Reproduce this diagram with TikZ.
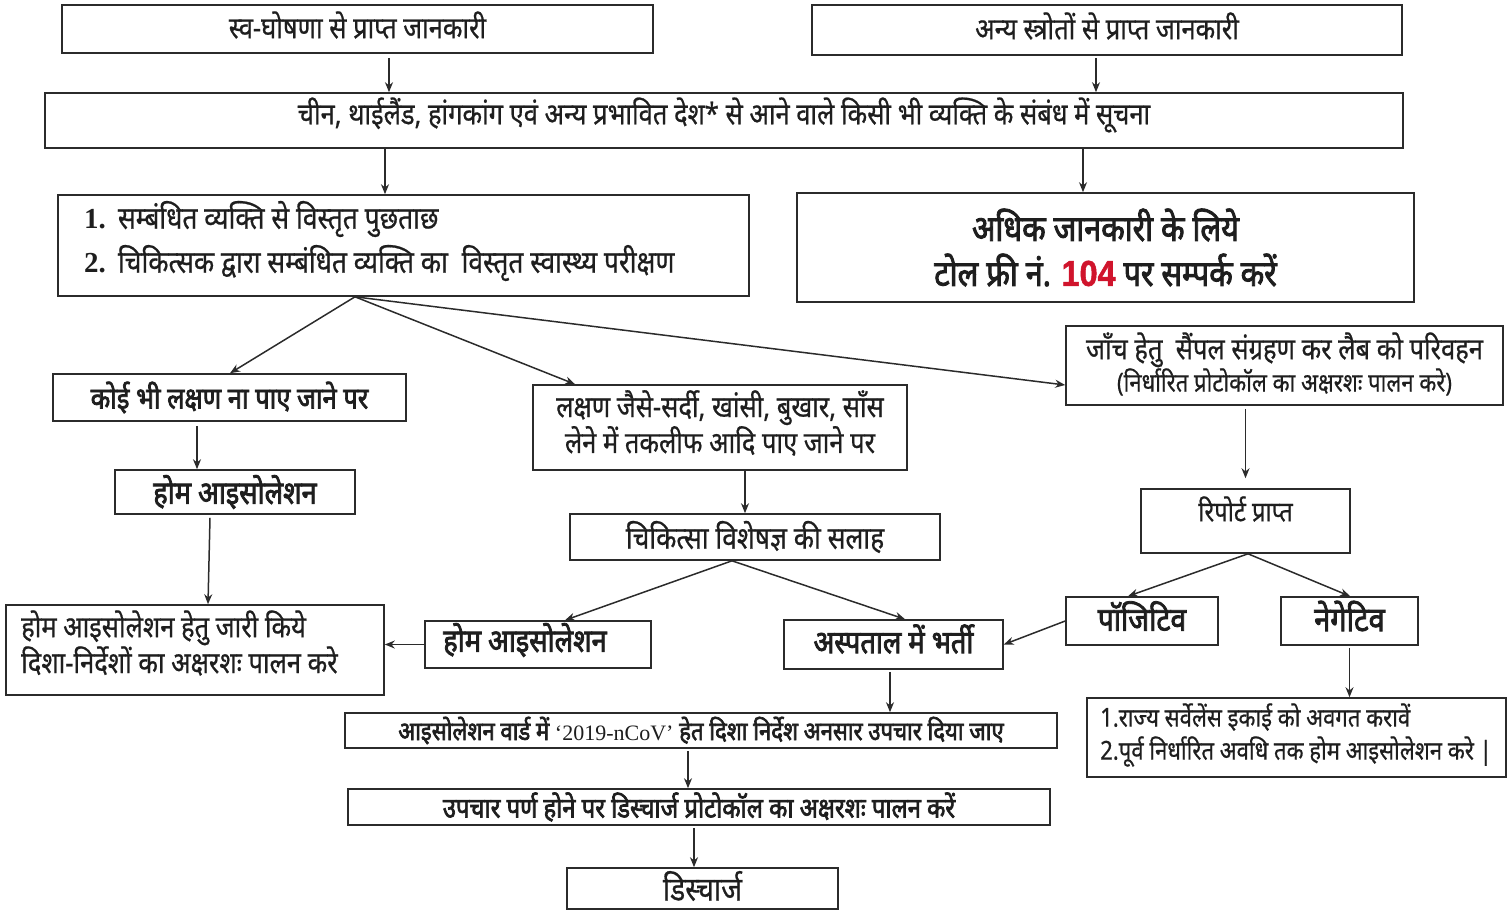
\documentclass[tikz,border=0pt]{standalone}
\usepackage{fontspec}
\usetikzlibrary{arrows.meta}
\newfontfamily\hin[Script=Devanagari,FakeStretch=0.85,FakeBold=0.6]{Noto Sans}
\newfontfamily\hinb[Script=Devanagari,FakeStretch=0.85,FakeBold=2.4]{Noto Sans}
\newfontfamily\lser{Liberation Serif}
\newfontfamily\lsan[FakeStretch=0.9,FakeBold=1.5]{Liberation Sans}
\definecolor{lc}{HTML}{2B2B2B}
\definecolor{tc}{HTML}{1E1E1E}
\definecolor{rd}{HTML}{D0142C}
\tikzset{
  box/.style={draw=lc, line width=1.6pt, inner sep=0pt, text=tc},
  arr/.style={draw=lc, line width=1.5pt, -{Stealth[length=10pt,width=8pt]}},
  reg/.style={font=\hin\fontsize{#1}{33}\selectfont},
  reg/.default=30,
  bld/.style={font=\hinb\fontsize{#1}{33}\selectfont},
  bld/.default=32,
  txt/.style={inner sep=0pt, text=tc},
}
\begin{document}
\begin{tikzpicture}[x=1pt,y=-1pt]
\useasboundingbox (0,0) rectangle (1512,913);
% boxes
\node[box,minimum width=591pt,minimum height=48pt] (b1) at (357.5,29) {};
\node[txt,reg=30] (t1) at (357.5,25) {स्व-घोषणा से प्राप्त जानकारी};
\node[box,minimum width=590pt,minimum height=50pt] (b2) at (1107,30) {};
\node[txt,reg=30] (t2) at (1107,26) {अन्य स्त्रोतों से प्राप्त जानकारी};
\node[box,minimum width=1358pt,minimum height=55pt] (b3) at (724,120.5) {};
\node[txt,reg=30] (t3) at (724,115) {चीन, थाईलैंड, हांगकांग एवं अन्य प्रभावित देश* से आने वाले किसी भी व्यक्ति के संबंध में सूचना};
\node[box,minimum width=691pt,minimum height=101pt] (b4) at (403.5,245.5) {};
\node[txt,anchor=west,align=left,font=\hin\fontsize{31}{44}\selectfont] (t4) at (84,241) {{\lser\bfseries\fontsize{29}{44}\selectfont 1.}\hspace{12pt}सम्बंधित व्यक्ति से विस्तृत पुछताछ\\{\lser\bfseries\fontsize{29}{44}\selectfont 2.}\hspace{12pt}चिकित्सक द्वारा सम्बंधित व्यक्ति का\ \ विस्तृत स्वास्थ्य परीक्षण};
\node[box,align=center,minimum width=617pt,minimum height=109pt,font=\hinb\fontsize{36}{45}\selectfont] (b5) at (1105.5,247.5) {अधिक जानकारी के लिये\\टोल फ्री नं. {\lsan\bfseries\fontsize{36}{45}\selectfont\color{rd}104} पर सम्पर्क करें};
\node[box,bld=30,minimum width=353pt,minimum height=47pt] (b6) at (229.5,397.5) {कोई भी लक्षण ना पाए जाने पर};
\node[box,minimum width=374pt,minimum height=85pt] (b7) at (720,427.5) {};
\node[txt,reg=30,align=center] (t7) at (720,423) {लक्षण जैसे-सर्दी, खांसी, बुखार, साँस\\लेने में तकलीफ आदि पाए जाने पर};
\node[box,minimum width=437pt,minimum height=79pt] (b8) at (1284.5,365.5) {};
\node[txt,align=center] (t8) at (1284.5,364) {{\hin\fontsize{30}{30}\selectfont जाँच हेतु\ \ सैंपल संग्रहण कर लैब को परिवहन}\\[0pt]{\hin\fontsize{26}{26}\selectfont (निर्धारित प्रोटोकॉल का अक्षरशः पालन करे)}};
\node[box,bld=32,minimum width=240pt,minimum height=44pt] (b9) at (235,492) {होम आइसोलेशन};
\node[box,reg=31,minimum width=370pt,minimum height=46pt] (b10) at (755,537) {चिकित्सा विशेषज्ञ की सलाह};
\node[box,minimum width=209pt,minimum height=64pt] (b11) at (1245.5,521) {};
\node[txt,reg=28] (t11) at (1245.5,509) {रिपोर्ट प्राप्त};
\node[box,minimum width=378pt,minimum height=90pt] (b12) at (195,650) {};
\node[txt,anchor=west,align=left,font=\hin\fontsize{30}{32}\selectfont] (t12) at (21,643) {होम आइसोलेशन हेतु जारी किये\\दिशा-निर्देशों का अक्षरशः पालन करे};
\node[box,minimum width=226pt,minimum height=47pt] (b13) at (538,644.5) {};
\node[txt,bld=32] (t13) at (525,640) {होम आइसोलेशन};
\node[box,minimum width=219pt,minimum height=49pt] (b14) at (893.5,644.5) {};
\node[txt,bld=32] (t14) at (893.5,639) {अस्पताल में भर्ती};
\node[box,minimum width=152pt,minimum height=48pt] (b15) at (1142,621) {};
\node[txt,bld=33] (t15) at (1142,616) {पॉजिटिव};
\node[box,minimum width=137pt,minimum height=48pt] (b16) at (1349.5,621) {};
\node[txt,bld=34] (t16) at (1349.5,616) {नेगेटिव};
\node[box,minimum width=419pt,minimum height=79pt] (b17) at (1296.5,737.5) {};
\node[txt,anchor=west,align=left,font=\hin\fontsize{26}{33}\selectfont] (t17) at (1100,735) {1.राज्य सर्वेलेंस इकाई को अवगत करावें\\2.पूर्व निर्धारित अवधि तक होम आइसोलेशन करे |};
\node[box,minimum width=712pt,minimum height=35pt,font=\hinb\fontsize{26}{28}\selectfont] (b18) at (701,730.5) {आइसोलेशन वार्ड में {\lser\fontsize{22}{28}\selectfont ‘2019-nCoV’} हेत दिशा निर्देश अनसार उपचार दिया जाए};
\node[box,minimum width=702pt,minimum height=36pt,font=\hinb\fontsize{28}{30}\selectfont] (b19) at (699,807) {उपचार पर्ण होने पर डिस्चार्ज प्रोटोकॉल का अक्षरशः पालन करें};
\node[box,minimum width=271pt,minimum height=41pt] (b20) at (702.5,888.5) {};
\node[txt,reg=33] (t20) at (702.5,886) {डिस्चार्ज};
% connectors
\draw[arr] ([xshift=31.5pt,yshift=-4pt]b1.south) -- ([xshift=31.5pt]b1.south |- b3.north);
\draw[arr] ([xshift=-11pt,yshift=-2pt]b2.south) -- ([xshift=-11pt]b2.south |- b3.north);
\draw[arr] ([xshift=-18.5pt]b4.north |- b3.south) -- ([xshift=-18.5pt]b4.north);
\draw[arr] ([xshift=-22.5pt]b5.north |- b3.south) -- ([xshift=-22.5pt]b5.north);
\coordinate (s4) at ([xshift=-48.5pt]b4.south);
\draw[arr] (s4) -- ([xshift=0.5pt]b6.north);
\draw[arr] (s4) -- ([xshift=-145pt]b7.north);
\draw[arr] (s4) -- ([yshift=-19.5pt]b8.west);
\draw[arr] ([xshift=-32.5pt,yshift=-4pt]b6.south) -- ([xshift=-38pt]b9.north);
\draw[arr] ([xshift=-25pt,yshift=-3pt]b9.south) -- ([xshift=13pt]b12.north);
\draw[arr] ([xshift=25pt]b7.south) -- ([xshift=-10pt]b10.north);
\coordinate (s10) at ([xshift=-23pt]b10.south);
\draw[arr] (s10) -- ([xshift=27pt]b13.north);
\draw[arr] (s10) -- ([xshift=11.5pt]b14.north);
\draw[arr] ([yshift=0pt]b13.west) -- (b12.east |- b13.west);
\draw[arr] ([yshift=-3pt]b8.south -| b11.north) -- ([yshift=10pt]b11.north);
\coordinate (s11) at ([xshift=2.5pt]b11.south);
\draw[arr] (s11) -- ([xshift=-14pt]b15.north);
\draw[arr] (s11) -- ([xshift=0.5pt]b16.north);
\draw[arr] (b15.west) -- (b14.east);
\draw[arr] ([yshift=-2pt]b16.south) -- (b16.south |- b17.north);
\draw[arr] ([xshift=-3.5pt,yshift=-2pt]b14.south) -- ([xshift=-3.5pt]b14.south |- b18.north);
\draw[arr] ([xshift=-13pt,yshift=-2pt]b18.south) -- ([xshift=-13pt]b18.south |- b19.north);
\draw[arr] ([xshift=-5pt,yshift=-2pt]b19.south) -- ([xshift=-5pt]b19.south |- b20.north);
\end{tikzpicture}
\end{document}
